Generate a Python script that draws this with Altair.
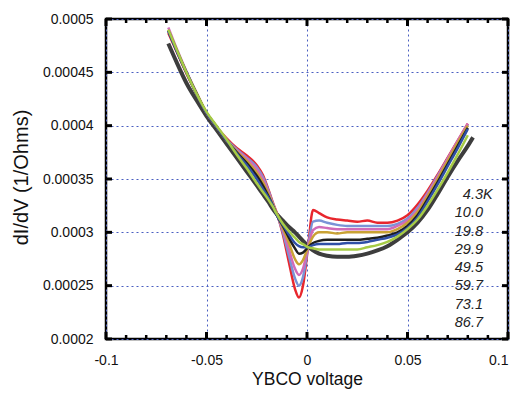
import altair as alt
import pandas as pd

# ---- data ----
X = [-0.069, -0.065, -0.06, -0.055, -0.05, -0.045, -0.04, -0.035, -0.03, -0.025,
     -0.022, -0.019, -0.017, -0.015, -0.012, -0.009, -0.006, -0.004, -0.002, 0.0005,
     0.003, 0.006, 0.01, 0.015, 0.02, 0.025, 0.03, 0.035, 0.04, 0.045,
     0.05, 0.055, 0.06, 0.065, 0.07, 0.075, 0.08, 0.0826]

# dI/dV in units of 1e-6 1/Ohm
T4_3 = [487, 470, 449, 430, 412, 399, 388, 379, 372, 363, 354, 339, 328, 318, 298, 272, 247, 239, 250, 286,
        321, 318, 314, 312, 311, 310, 311, 309, 309, 311, 316, 326, 339, 354, 370, 386, 402, None]
T10_0 = [489, 471, 450, 430, 412, 399, 387, 378, 370, 361, 352, 338, 327, 317, 300, 278, 257, 250, 258, 286,
         310, 311, 309, 307, 306, 306, 306, 306, 306, 308, 313, 323, 337, 353, 369, 385, 401, None]
T19_8 = [492, 473, 451, 431, 412, 399, 386, 377, 369, 359, 350, 337, 326, 317, 302, 284, 266, 260, 266, 286,
         302, 305, 304, 303, 303, 303, 303, 303, 303, 306, 311, 321, 336, 352, 369, 386, 402, None]
T29_9 = [490, 472, 450, 431, 412, 399, 386, 376, 367, 356, 347, 335, 326, 317, 304, 290, 275, 270, 274, 286,
         296, 300, 300, 299, 300, 300, 300, 300, 300, 303, 309, 319, 334, 350, 367, 384, 400, None]
T49_5 = [489, 471, 450, 430, 412, 399, 386, 375, 365, 353, 344, 333, 325, 316, 306, 295, 285, 280, 281, 286,
         290, 292, 293, 293, 293, 293, 294, 295, 297, 300, 306, 316, 331, 347, 364, 381, 398, None]
T59_7 = [489, 471, 450, 430, 412, 399, 386, 374, 363, 350, 341, 332, 325, 316, 307, 298, 290, 287, 286, 286,
         288, 289, 289, 289, 290, 290, 291, 293, 295, 298, 304, 314, 329, 345, 362, 379, 397, None]
T73_1 = [490, 472, 450, 430, 413, 400, 387, 373, 360, 346, 338, 330, 324, 317, 308, 301, 295, 291, 289, 286,
         285, 284, 284, 284, 284, 284, 286, 288, 291, 296, 303, 312, 325, 340, 356, 373, 391, None]
T86_7 = [477, 460, 440, 424, 409, 396, 383, 370, 357, 344, 336, 328, 322, 317, 311, 305, 300, 296, 292, 287,
         283, 280, 278, 277, 277, 278, 280, 283, 287, 293, 300, 309, 321, 336, 352, 367, 381, 389]

TEMPS = ["4.3", "10.0", "19.8", "29.9", "49.5", "59.7", "73.1", "86.7"]
SUFFIX = ["K", "", "", "", "", "", "", ""]
SERIES = [T4_3, T10_0, T19_8, T29_9, T49_5, T59_7, T73_1, T86_7]
COLORS = ["#e8262d", "#7b93d6", "#d16bb8", "#c9a234", "#1e1e1e", "#2f4fa6", "#a6cb45", "#3d3d3d"]

X_LABEL_VALUES = [-0.1, -0.05, 0, 0.05, 0.1]
Y_LABEL_VALUES = [0.0002, 0.00025, 0.0003, 0.00035, 0.0004, 0.00045, 0.0005]
X_MINOR = [-0.09, -0.08, -0.07, -0.06, -0.04, -0.03, -0.02, -0.01,
           0.01, 0.02, 0.03, 0.04, 0.06, 0.07, 0.08, 0.09]

rows = []
for t, ys, order in zip(TEMPS, SERIES, range(len(TEMPS))):
    for x, y in zip(X, ys):
        if y is not None:
            rows.append({"v": x, "g": y * 1e-6, "T": t, "o": order})
df = pd.DataFrame(rows)

FONT = "Liberation Sans"
xscale = alt.Scale(domain=[-0.1, 0.1], nice=False, zero=False)
yscale = alt.Scale(domain=[0.0002, 0.0005], nice=False, zero=False)

xaxis = alt.Axis(values=X_LABEL_VALUES, title="YBCO voltage", ticks=False, domain=False,
                 labelExpr="replace(format(datum.value, '~g'), '\u2212', '-')",
                 labelAlign={"condition": {"test": "datum.value > 0.09", "value": "right"},
                             "value": "center"},
                 labelFont=FONT, labelFontSize=14, labelColor="#111", labelPadding=14,
                 labelFlush=False,
                 titleFont=FONT, titleFontSize=17.5, titleFontWeight="normal", titleColor="#111",
                 titleX=201, titleY=45, titleBaseline="alphabetic",
                 grid=True, gridColor="#4a5fc1", gridDash=[2, 3], gridWidth=1)
yaxis = alt.Axis(values=Y_LABEL_VALUES, title="dI/dV  (1/Ohms)", ticks=False, domain=False,
                 labelExpr="format(datum.value, '~g')",
                 labelFont=FONT, labelFontSize=14, labelColor="#111", labelPadding=13,
                 labelFlush=False,
                 titleFont=FONT, titleFontSize=20, titleFontWeight="normal", titleColor="#111",
                 titleX=-85, titleY=158, titleBaseline="middle", titleAngle=-90,
                 grid=True, gridColor="#4a5fc1", gridDash=[2, 3], gridWidth=1)

color = alt.Color("T:N", scale=alt.Scale(domain=TEMPS, range=COLORS), legend=None)

gray_line = alt.Chart(df).transform_filter(alt.datum.T == "86.7").mark_line(
    strokeWidth=4, interpolate="monotone", clip=True
).encode(
    x=alt.X("v:Q", scale=xscale, axis=xaxis),
    y=alt.Y("g:Q", scale=yscale, axis=yaxis),
    color=color,
    order="v:Q",
)

lines = alt.Chart(df).transform_filter(alt.datum.T != "86.7").mark_line(
    strokeWidth=2.5, interpolate="monotone", clip=True
).encode(
    x=alt.X("v:Q", scale=xscale, axis=xaxis),
    y=alt.Y("g:Q", scale=yscale, axis=yaxis),
    color=color,
    detail="o:O",
    order="v:Q",
)

minor_df = pd.DataFrame({"v": X_MINOR})
major_df = pd.DataFrame({"v": X_LABEL_VALUES})
ytick_df = pd.DataFrame({"g": Y_LABEL_VALUES})

xm = alt.X("v:Q", scale=xscale, axis=xaxis)
tick_minor_bottom = alt.Chart(minor_df).mark_rule(color="black", strokeWidth=2.5).encode(
    x=xm, y=alt.value(320), y2=alt.value(316))
tick_minor_top = alt.Chart(minor_df).mark_rule(color="black", strokeWidth=2.5).encode(
    x=xm, y=alt.value(0), y2=alt.value(4))
tick_major_bottom = alt.Chart(major_df).mark_rule(color="black", strokeWidth=3).encode(
    x=xm, y=alt.value(320), y2=alt.value(313))
tick_major_top = alt.Chart(major_df).mark_rule(color="black", strokeWidth=3).encode(
    x=xm, y=alt.value(0), y2=alt.value(7))
ym = alt.Y("g:Q", scale=yscale, axis=yaxis)
tick_y_left = alt.Chart(ytick_df).mark_rule(color="black", strokeWidth=3).encode(
    y=ym, x=alt.value(0), x2=alt.value(6))
tick_y_right = alt.Chart(ytick_df).mark_rule(color="black", strokeWidth=3).encode(
    y=ym, x=alt.value(402), x2=alt.value(396))

main = alt.layer(gray_line, lines, tick_minor_bottom, tick_minor_top, tick_major_bottom,
                 tick_major_top, tick_y_left, tick_y_right)

leg_df = pd.DataFrame({"t": TEMPS, "s": SUFFIX})
leg_y = alt.Y("t:N", sort=TEMPS, scale=alt.Scale(type="point", range=[176, 304], padding=0),
              axis=None)
legend_nums = alt.Chart(leg_df).mark_text(
    align="right", baseline="middle", font=FONT, fontStyle="italic", fontSize=14.5, color="#222"
).encode(x=alt.value(377), y=leg_y, text="t:N")
legend_k = alt.Chart(leg_df).mark_text(
    align="left", baseline="middle", font=FONT, fontStyle="italic", fontSize=14.5, color="#222"
).encode(x=alt.value(377), y=leg_y, text="s:N")
legend = alt.layer(legend_nums, legend_k)

chart = alt.layer(main, legend).resolve_scale(y="independent").properties(
    width=402, height=320,
    autosize=alt.AutoSizeParams(type="none"),
    padding={"left": 98, "top": 11, "right": 4, "bottom": 50},
    background="white",
).configure_view(stroke="black", strokeWidth=2.5)

chart.save("out.html", embed_options={"renderer": "svg", "actions": False})
